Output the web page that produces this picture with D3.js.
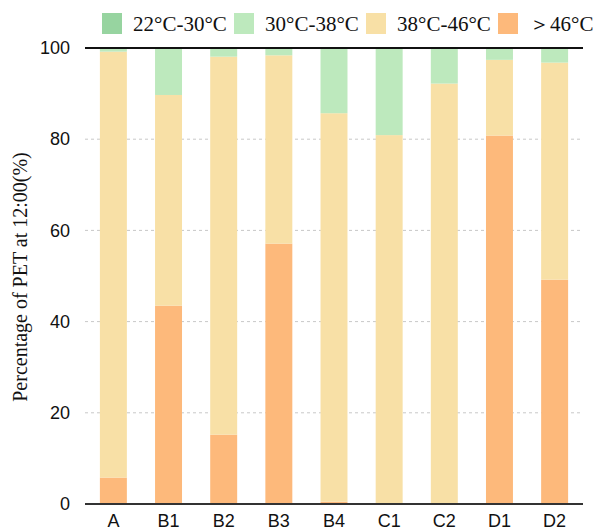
<!DOCTYPE html>
<html>
<head>
<meta charset="utf-8">
<script src="https://cdn.jsdelivr.net/npm/d3@7"></script>
<style>
  html, body { margin: 0; padding: 0; background: #fff; }
  svg { display: block; }
  .serif { font-family: "Liberation Serif", "Times New Roman", Times, serif; }
  .sans { font-family: "Liberation Sans", Arial, Helvetica, sans-serif; }
</style>
</head>
<body>
<svg id="chart" width="595" height="531"></svg>
<script>
// ---- data ----
const categories = ["A", "B1", "B2", "B3", "B4", "C1", "C2", "D1", "D2"];
const seriesNames = ["22°C-30°C", "30°C-38°C", "38°C-46°C", "＞46°C"];
const seriesKeys = ["r22_30", "r30_38", "r38_46", "gt46"];
const r22_30 = [0, 0, 0, 0, 0, 0, 0, 0, 0];
const gt46   = [5.8, 43.5, 15.2, 57.1, 0.5, 0, 0, 80.8, 49.2];
const r38_46 = [93.4, 46.2, 82.9, 41.3, 85.2, 80.9, 92.2, 16.6, 47.6];
const r30_38 = [0.8, 10.3, 1.9, 1.6, 14.3, 19.1, 7.8, 2.6, 3.2];
const yTicks = [0, 20, 40, 60, 80, 100];
const colors = ["#97d4a0", "#bde9bd", "#f8e0a6", "#fdb97b"];

// ---- layout ----
const svg = d3.select("#chart");
const margin = { left: 85, right: 12, top: 48, bottom: 27 };
const W = 595, H = 531;
const x = d3.scaleBand().domain(categories)
  .range([margin.left, W - margin.right])
  .paddingInner(0.511).paddingOuter(0.27);
const y = d3.scaleLinear().domain([0, 100]).range([H - margin.bottom, margin.top]);

const rows = categories.map((c, i) => ({
  cat: c, gt46: gt46[i], r38_46: r38_46[i], r30_38: r30_38[i], r22_30: r22_30[i]
}));
const stackOrder = ["gt46", "r38_46", "r30_38", "r22_30"];
const stacked = d3.stack().keys(stackOrder)(rows);
const colorOf = k => colors[seriesKeys.indexOf(k)];

// gridlines
svg.append("g").selectAll("line")
  .data(yTicks.filter(t => t > 0 && t < 100))
  .join("line")
  .attr("x1", margin.left).attr("x2", W - margin.right)
  .attr("y1", d => y(d)).attr("y2", d => y(d))
  .attr("stroke", "#c8c8c8").attr("stroke-width", 1)
  .attr("stroke-dasharray", "3,3");

// bars
svg.append("g").selectAll("g")
  .data(stacked).join("g")
  .attr("fill", d => colorOf(d.key))
  .selectAll("rect").data(d => d).join("rect")
  .attr("x", d => x(d.data.cat))
  .attr("width", x.bandwidth())
  .attr("y", d => y(d[1]))
  .attr("height", d => Math.max(0, y(d[0]) - y(d[1])));

// top line
svg.append("line")
  .attr("x1", margin.left).attr("x2", W - margin.right)
  .attr("y1", y(100)).attr("y2", y(100))
  .attr("stroke", "#111").attr("stroke-width", 2);

// x axis
const xAxis = svg.append("g")
  .attr("transform", `translate(0,${y(0)})`)
  .call(d3.axisBottom(x).tickSize(0).tickPadding(10));
xAxis.attr("font-family", null).attr("font-size", null);
xAxis.select(".domain").attr("stroke", "#333").attr("stroke-width", 2)
  .attr("d", `M${margin.left},0H${W - margin.right}`);
xAxis.selectAll("text").attr("class", "sans")
  .style("font-size", "18px").attr("fill", "#111");

// y axis
const yAxis = svg.append("g")
  .attr("transform", `translate(${margin.left},0)`)
  .call(d3.axisLeft(y).tickValues(yTicks).tickSize(0).tickPadding(15));
yAxis.attr("font-family", null).attr("font-size", null);
yAxis.select(".domain").remove();
yAxis.selectAll("text").attr("class", "sans")
  .style("font-size", "18px").attr("fill", "#111");

// y title
svg.append("text")
  .attr("class", "serif")
  .attr("transform", `translate(27,${(y(0) + y(100)) / 2 + 1}) rotate(-90)`)
  .attr("text-anchor", "middle")
  .style("font-size", "20px").attr("fill", "#111")
  .text("Percentage of PET at 12:00(%)");

// legend
const legendX = [102, 234, 366, 498];
const lg = svg.append("g").selectAll("g").data(seriesNames).join("g")
  .attr("transform", (d, i) => `translate(${legendX[i]},13)`);
lg.append("rect").attr("width", 20).attr("height", 21)
  .attr("fill", (d, i) => colors[i]);
lg.append("text").attr("class", "serif").attr("x", 31).attr("y", 18)
  .style("font-size", "21px").attr("fill", "#111")
  .text(d => d);
</script>
</body>
</html>
